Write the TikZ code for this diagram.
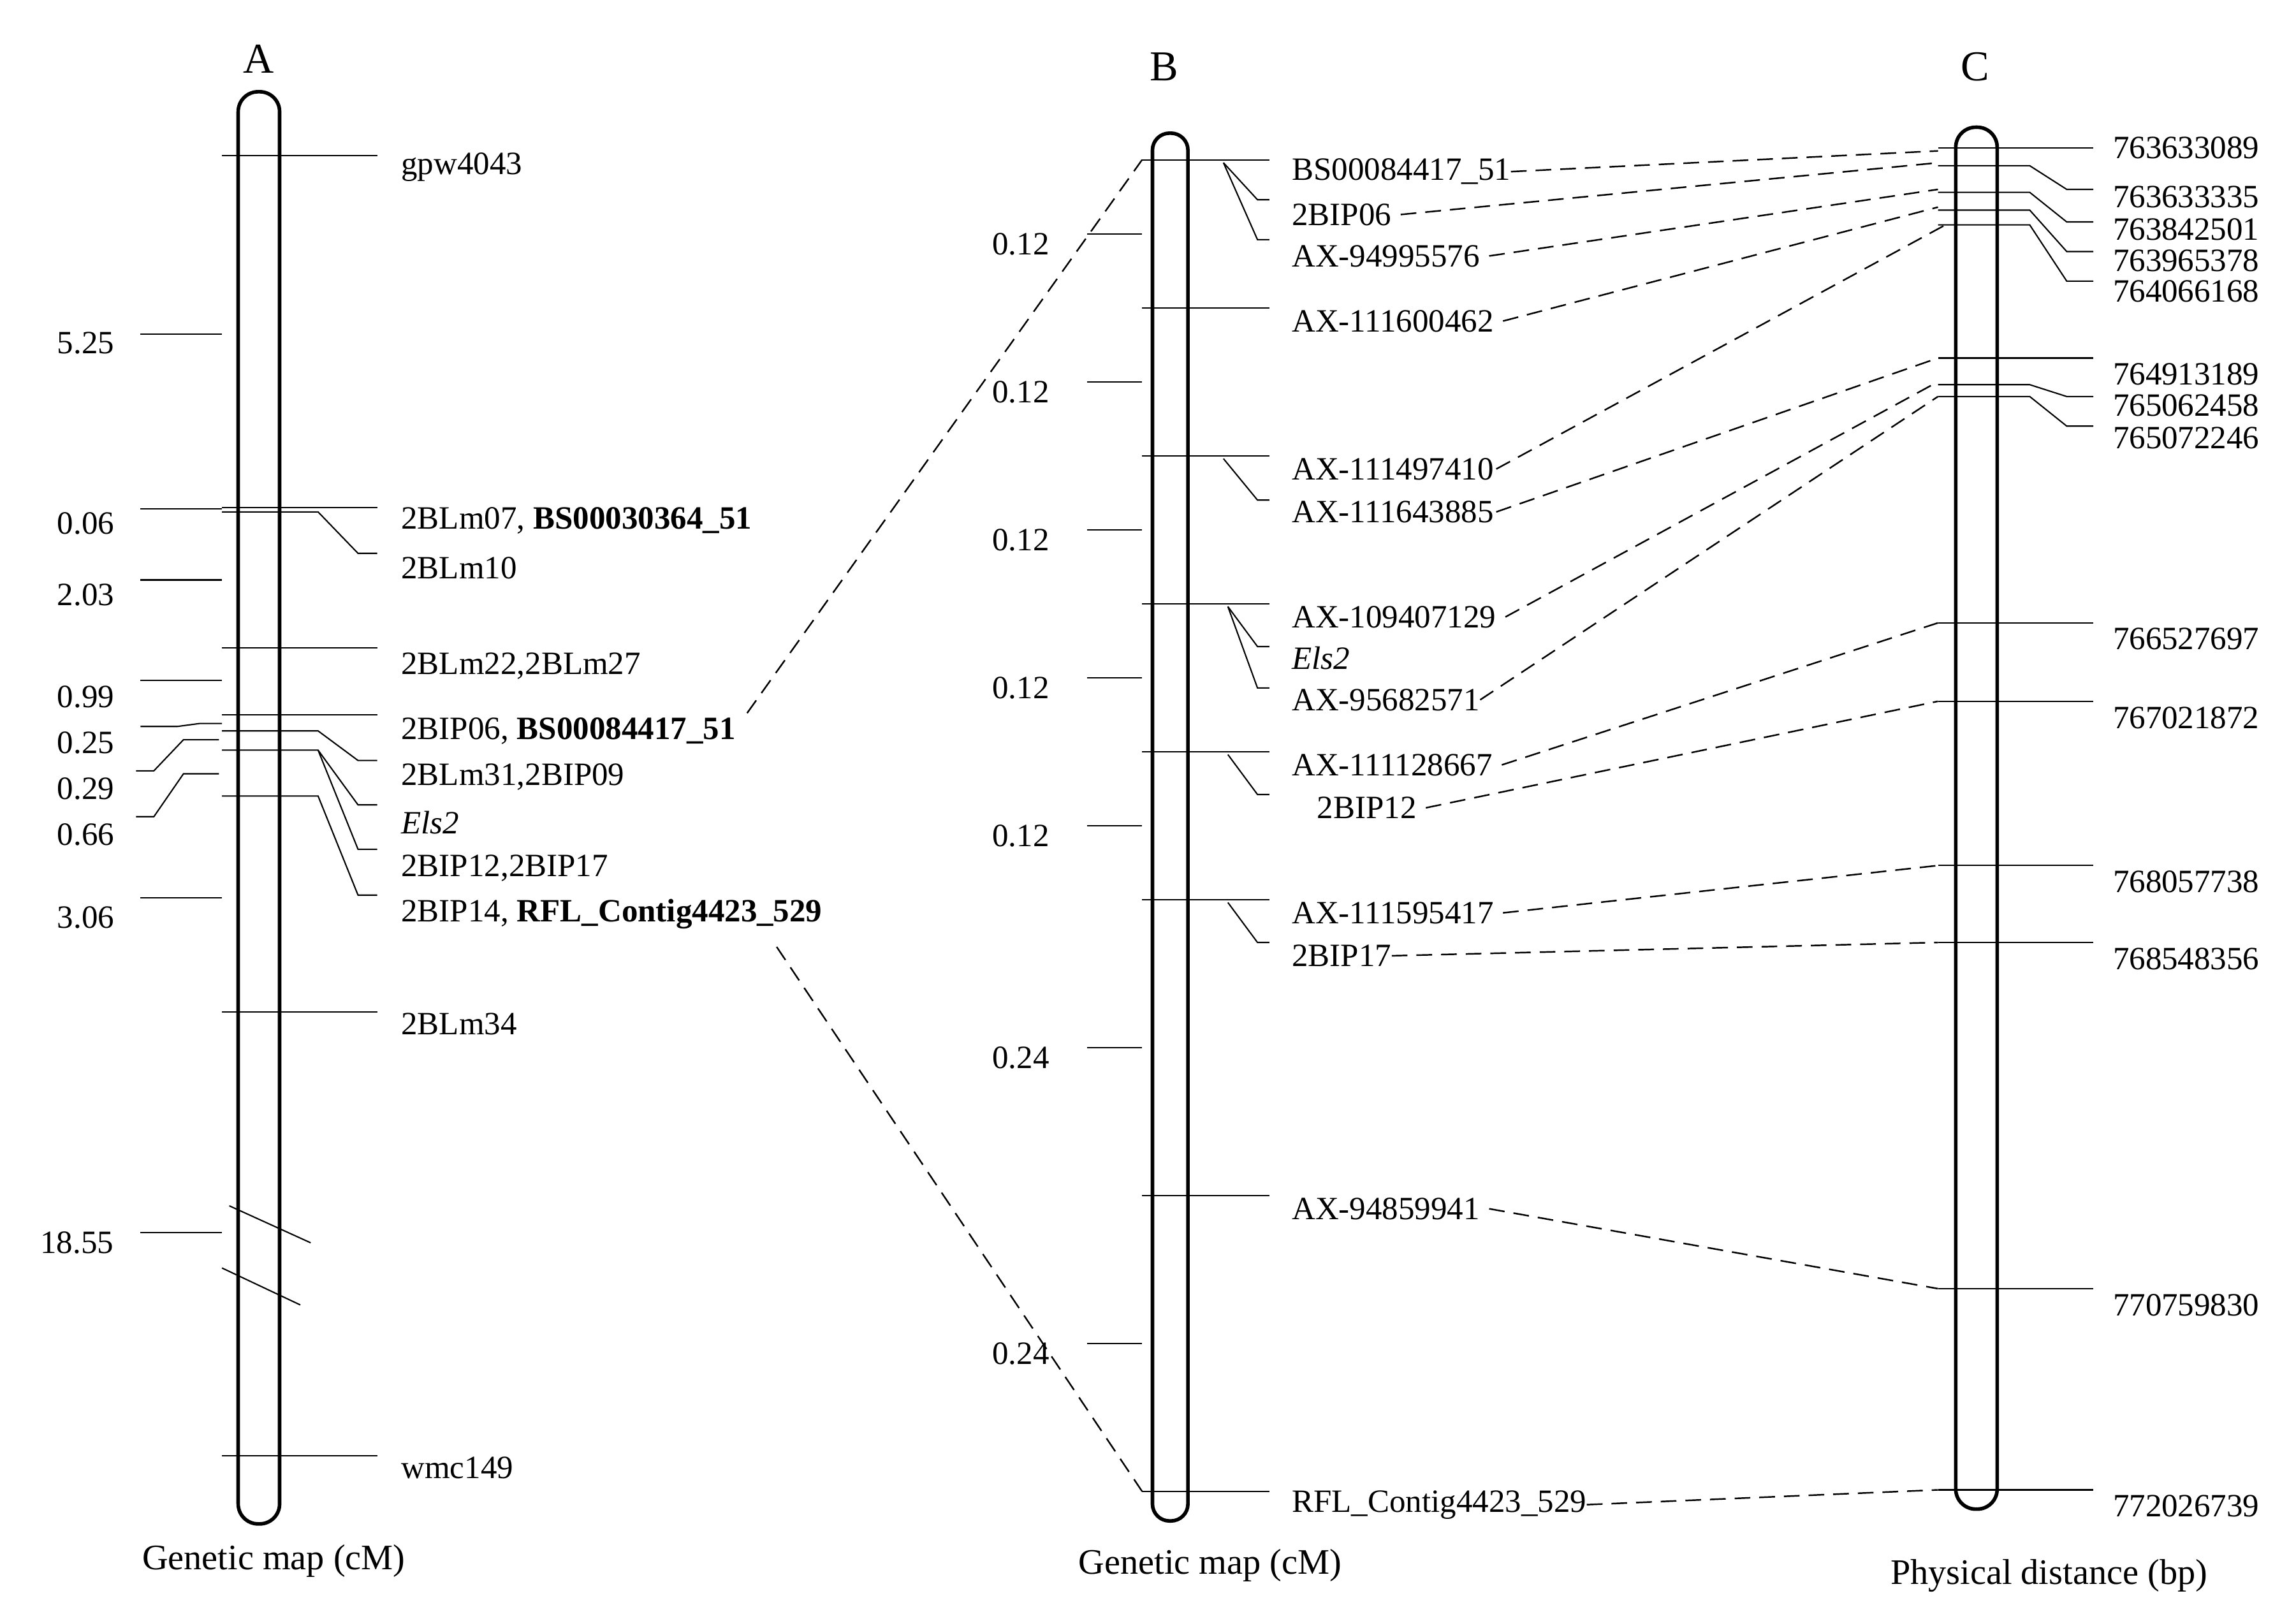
\documentclass[tikz,border=0pt]{standalone}
\usepackage{fontspec}
\setmainfont{Liberation Serif}
\begin{document}
\begin{tikzpicture}[x=0.0232cm,y=-0.0232cm,
  lab/.style={font=\fontsize{14.5}{17}\selectfont,anchor=west,inner sep=0pt},
  num/.style={font=\fontsize{14.5}{17}\selectfont,anchor=center,inner sep=0pt},
  ttl/.style={font=\fontsize{19}{22}\selectfont,inner sep=0pt},
  chrom/.style={line width=1.6pt},
  mk/.style={line width=0.6pt},
  dsh/.style={line width=0.7pt,dash pattern=on 7pt off 4pt}]
\useasboundingbox (0,0) rectangle (1552,1094);
% ---------- A ----------
\node[ttl] (tA) at (175,40) {A};
\draw[chrom,rounded corners=8.9pt] (161,62) rectangle (189,1030);
\foreach \y in {105,343,438,483,684,984} \draw[mk] (150,\y) -- (255,\y);
\draw[mk] (150,346) -- (215,346) -- (242,374) -- (255,374);
\draw[mk] (150,494) -- (215,494) -- (242,514) -- (255,514);
\draw[mk] (150,507) -- (215,507) -- (242,544) -- (255,544);
\draw[mk] (215,507) -- (242,574) -- (255,574);
\draw[mk] (150,538) -- (215,538) -- (242,605) -- (255,605);
\node[lab] (a1) at (271,113) {gpw4043};
\node[lab] (a2) at (271,352) {2BLm07, \textbf{BS00030364\_51}};
\node[lab] (a3) at (271,384) {2BLm10};
\node[lab] (a4) at (271,450) {2BLm22,2BLm27};
\node[lab] (a5) at (271,494) {2BIP06, \textbf{BS00084417\_51}};
\node[lab] (a6) at (271,525) {2BLm31,2BIP09};
\node[lab] (a7) at (271,556) {\textit{Els2}};
\node[lab] (a8) at (271,587) {2BIP12,2BIP17};
\node[lab] (a9) at (271,618) {2BIP14, \textbf{RFL\_Contig4423\_529}};
\node[lab] (a10) at (271,692) {2BLm34};
\node[lab] (a11) at (271,992) {wmc149};
% left ticks
\foreach \y in {226,344,392,460,607,833} \draw[mk] (95,\y) -- (150,\y);
\draw[mk] (95,491) -- (120,491) -- (135,489) -- (150,489);
\draw[mk] (92,521) -- (104,521) -- (124,500) -- (148,500);
\draw[mk] (92,552) -- (104,552) -- (124,523) -- (148,523);
\node[num] (d1) at (58,232) {5.25};
\node[num] (d2) at (58,354) {0.06};
\node[num] (d3) at (58,402) {2.03};
\node[num] (d4) at (58,471) {0.99};
\node[num] (d5) at (58,502) {0.25};
\node[num] (d6) at (58,533) {0.29};
\node[num] (d7) at (58,564) {0.66};
\node[num] (d8) at (58,620) {3.06};
\node[num] (d9) at (52,840) {18.55};
\draw[mk] (155,815) -- (210,840);
\draw[mk] (150,857) -- (203,882);
\node[ttl,font=\fontsize{16}{19}\selectfont] (gA) at (185,1055) {Genetic map (cM)};
% ---------- B ----------
\node[ttl] (tB) at (787,45) {B};
\draw[chrom,rounded corners=7.6pt] (779,90) rectangle (803,1028);
\foreach \y in {108,208,308,408,508,608,808,1008} \draw[mk] (772,\y) -- (858,\y);
\foreach \y in {158,258,358,458,558,708,908} \draw[mk] (735,\y) -- (772,\y);
\foreach \y/\l in {165/0.12,265/0.12,365/0.12,465/0.12,565/0.12,715/0.24,915/0.24} \node[num] at (690,\y) {\l};
\draw[mk] (827,110) -- (850,135) -- (858,135);
\draw[mk] (827,110) -- (850,162) -- (858,162);
\draw[mk] (827,310) -- (850,338) -- (858,338);
\draw[mk] (830,410) -- (850,437) -- (858,437);
\draw[mk] (830,410) -- (850,465) -- (858,465);
\draw[mk] (830,510) -- (850,537) -- (858,537);
\draw[mk] (830,610) -- (850,637) -- (858,637);
\node[lab] (b1) at (873,116) {BS00084417\_51};
\node[lab] (b2) at (873,145) {2BIP06};
\node[lab] (b3) at (873,173) {AX-94995576};
\node[lab] (b4) at (873,217) {AX-111600462};
\node[lab] (b5) at (873,317) {AX-111497410};
\node[lab] (b6) at (873,346) {AX-111643885};
\node[lab] (b7) at (873,417) {AX-109407129};
\node[lab] (b8) at (873,445) {\textit{Els2}};
\node[lab] (b9) at (873,473) {AX-95682571};
\node[lab] (b10) at (873,517) {AX-111128667};
\node[lab] (b11) at (890,546) {2BIP12};
\node[lab] (b12) at (873,617) {AX-111595417};
\node[lab] (b13) at (873,646) {2BIP17};
\node[lab] (b14) at (873,817) {AX-94859941};
\node[lab] (b15) at (873,1017) {RFL\_Contig4423\_529};
\node[ttl,font=\fontsize{16}{19}\selectfont] (gB) at (818,1058) {Genetic map (cM)};
% ---------- C ----------
\node[ttl] (tC) at (1335,45) {C};
\draw[chrom,rounded corners=8.9pt] (1322,86) rectangle (1350,1020);
\foreach \y in {100,242,421,474,585,637,871,1007} \draw[mk] (1310,\y) -- (1415,\y);
\foreach \a/\b in {112/128,130/150,142/170,152/190,260/268,268/288} \draw[mk] (1310,\a) -- (1372,\a) -- (1397,\b) -- (1415,\b);
\foreach \y/\l/\n in {100/763633089/c1,133/763633335/c2,155/763842501/c3,176/763965378/c4,197/764066168/c5,253/764913189/c6,274/765062458/c7,296/765072246/c8,432/766527697/c9,485/767021872/c10,596/768057738/c11,648/768548356/c12,882/770759830/c13,1018/772026739/c14}
  \node[lab] (\n) at (1428,\y) {\l};
\node[ttl,font=\fontsize{16}{19}\selectfont] (gC) at (1385,1065) {Physical distance (bp)};
% connectors
\coordinate (p1) at (1310,102); \coordinate (p2) at (1310,110);
\coordinate (p3) at (1310,128); \coordinate (p4) at (1310,140);
\coordinate (p5) at (1315,152); \coordinate (p6) at (1310,242);
\coordinate (p7) at (1310,258); \coordinate (p8) at (1310,268);
\coordinate (p9) at (1310,421); \coordinate (p10) at (1310,474);
\coordinate (p11) at (1310,585); \coordinate (p12) at (1310,637);
\coordinate (p13) at (1310,871); \coordinate (p14) at (1310,1007);
\draw[dsh] (b1.east) -- (p1);
\draw[dsh] ([xshift=4pt]b2.east) -- (p2);
\draw[dsh] ([xshift=4pt]b3.east) -- (p3);
\draw[dsh] ([xshift=4pt]b4.east) -- (p4);
\draw[dsh] ([xshift=1pt]b5.east) -- (p5);
\draw[dsh] ([xshift=1pt]b6.east) -- (p6);
\draw[dsh] ([xshift=4pt]b7.east) -- (p7);
\draw[dsh] (b9.east) -- (p8);
\draw[dsh] ([xshift=4pt]b10.east) -- (p9);
\draw[dsh] ([xshift=4pt]b11.east) -- (p10);
\draw[dsh] ([xshift=4pt]b12.east) -- (p11);
\draw[dsh] (b13.east) -- (p12);
\draw[dsh] ([xshift=4pt]b14.east) -- (p13);
\draw[dsh] (b15.east) -- (p14);
\coordinate (q1) at (772,108); \coordinate (q2) at (772,1008);
\draw[dsh] (505,482) -- (q1);
\draw[dsh] (525,640) -- (q2);
\end{tikzpicture}
\end{document}
